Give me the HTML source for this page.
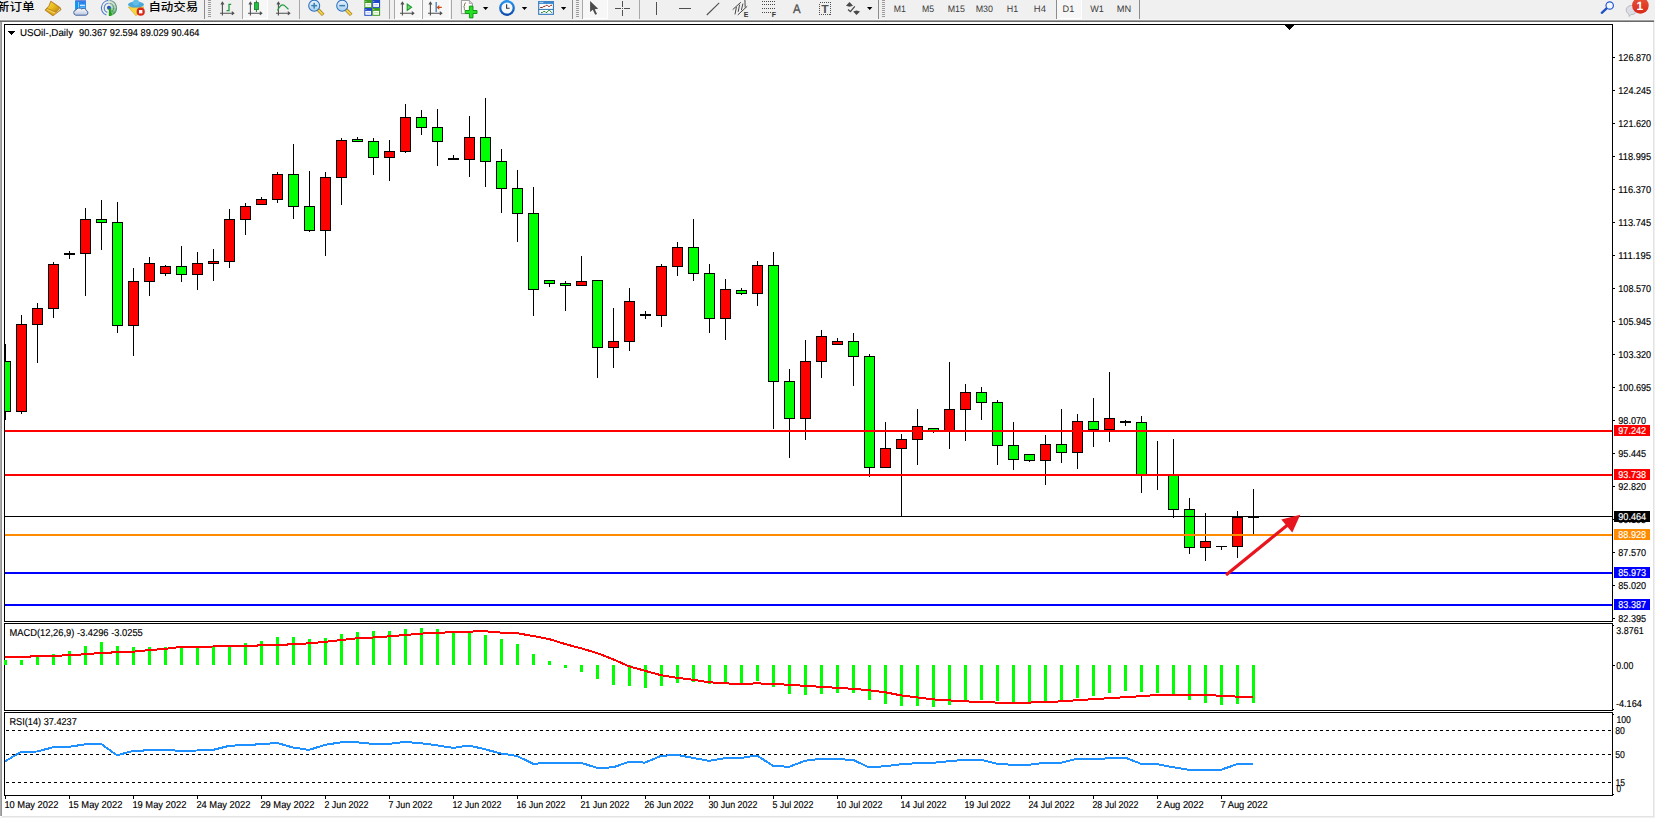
<!DOCTYPE html>
<html lang="zh"><head><meta charset="utf-8"><title>USOil-,Daily</title>
<style>
html,body{margin:0;padding:0;background:#fff;}
body{width:1655px;height:818px;overflow:hidden;position:relative;font-family:"Liberation Sans", "Noto Sans CJK SC", sans-serif;}
svg{position:absolute;left:0;top:0;display:block;}
text{font-family:"Liberation Sans", "Noto Sans CJK SC", sans-serif;}
.t{font-size:10px;fill:#000;text-rendering:geometricPrecision;stroke:#000;stroke-width:0.15px;}
.w{font-size:10px;fill:#fff;text-rendering:geometricPrecision;stroke:#fff;stroke-width:0.15px;}
.tf{font-size:9.3px;fill:#3c3c3c;text-rendering:geometricPrecision;}
.cn{font-size:11.5px;fill:#000;font-weight:500;}
.cr{shape-rendering:crispEdges;}
</style></head><body>
<svg width="1655" height="818" viewBox="0 0 1655 818">
<rect x="0" y="0" width="1655" height="818" fill="#fff"/>
<g class="cr">
<rect x="0" y="0" width="1655" height="20" fill="#f0f0f0"/>
<rect x="0" y="19" width="1654" height="1" fill="#f6f6f6"/>
<rect x="0" y="20" width="1654" height="1" fill="#a0a0a0"/>
<rect x="0" y="21" width="1654" height="1" fill="#696969"/>
<rect x="0" y="22" width="1" height="794" fill="#ababab"/>
<rect x="1" y="22" width="1" height="794" fill="#959595"/>
<rect x="1653" y="22" width="1" height="795" fill="#e3e3e3"/>
<rect x="1654" y="0" width="1" height="818" fill="#f0f0f0"/>
<rect x="2" y="816" width="1652" height="1" fill="#e3e3e3"/>
<rect x="0" y="817" width="1655" height="1" fill="#f0f0f0"/>
</g>
<defs>
<linearGradient id="gold" x1="0" y1="0" x2="1" y2="1"><stop offset="0" stop-color="#f7dc4a"/><stop offset="0.5" stop-color="#e8b91c"/><stop offset="1" stop-color="#b97d14"/></linearGradient>
<linearGradient id="blu" x1="0" y1="0" x2="0" y2="1"><stop offset="0" stop-color="#2c7be8"/><stop offset="1" stop-color="#1ea0f5"/></linearGradient>
<linearGradient id="cld" x1="0" y1="0" x2="0" y2="1"><stop offset="0" stop-color="#ffffff"/><stop offset="1" stop-color="#b9c6de"/></linearGradient>
<linearGradient id="lens" x1="0" y1="0" x2="0" y2="1"><stop offset="0" stop-color="#e8f3fb"/><stop offset="1" stop-color="#a9d0ee"/></linearGradient>
<linearGradient id="redg" x1="0" y1="0" x2="0" y2="1"><stop offset="0" stop-color="#e8553a"/><stop offset="1" stop-color="#d8281a"/></linearGradient>
<linearGradient id="clk" x1="0" y1="0" x2="0" y2="1"><stop offset="0" stop-color="#2a9af2"/><stop offset="1" stop-color="#0c48a8"/></linearGradient>
</defs>
<text class="cn" x="-3.2" y="11.2" textLength="37.8" lengthAdjust="spacingAndGlyphs">新订单</text>
<polygon points="50.8,1.0 60.2,7.5 61.1,9.7 52.9,15.9 44.9,10.1 48.8,6" fill="#b47c18" stroke="#b47c18" stroke-width="0.6" stroke-linejoin="round"/>
<polygon points="53.4,14.9 60.3,9.6 59.8,8.3 56.4,12.3" fill="#eadfa8"/>
<polygon points="47.0,8.7 56.2,12.5 53,15.0 45.9,10.1" fill="#e2ae20"/>
<polygon points="47.3,9.3 55.6,12.9 55.0,13.4 46.8,9.8" fill="#f6e27a"/>
<polygon points="51.1,2.1 59.5,7.9 56.4,11.9 47.5,8.2 49.6,5.4" fill="url(#gold)"/>
<rect x="75.2" y="0.4" width="10.8" height="9.4" rx="0.8" fill="url(#blu)"/>
<rect x="75.2" y="0" width="10.8" height="1.2" fill="#6a7fd6" opacity="0.8"/>
<polygon points="75.2,1 78.3,2.4 78.3,9.8 75.2,9.8" fill="#0f96f0"/>
<rect x="78.1" y="2" width="0.6" height="7" fill="#d8efff"/>
<rect x="80" y="4.7" width="5" height="1.2" fill="#e6f4ff"/>
<rect x="80" y="6.8" width="5" height="0.7" fill="#8fd0ff"/>
<path d="M75.8,15.2 a2.7,2.7 0 0 1 0.3,-5.3 a3.3,2.8 0 0 1 5.6,-0.9 a2.7,2.5 0 0 1 4.5,1.4 a2.6,2.5 0 0 1 -0.3,4.8 z" fill="url(#cld)" stroke="#44629e" stroke-width="1"/>
<circle cx="108.96" cy="7.95" r="8" fill="#eef1ea"/>
<path d="M108.96,7.95 L108.96,15.95 A8,8 0 0 0 112.96,14.88 Z" fill="#1fa01f" opacity="0.95"/>
<path d="M108.96,7.95 L112.96,14.88 A8,8 0 0 0 115.89,11.95 Z" fill="#3fae3c" opacity="0.75"/>
<path d="M108.96,7.95 L115.89,11.95 A8,8 0 0 0 116.96,7.95 Z" fill="#5cb85a" opacity="0.6"/>
<path d="M108.96,7.95 L116.96,7.95 A8,8 0 0 0 115.89,3.95 Z" fill="#7cc47a" opacity="0.5"/>
<path d="M108.96,7.95 L115.89,3.95 A8,8 0 0 0 112.96,1.02 Z" fill="#9ad098" opacity="0.4"/>
<path d="M108.96,7.95 L112.96,1.02 A8,8 0 0 0 107.57,0.07 Z" fill="#b4dcb2" opacity="0.25"/>
<path d="M106.39,15.00 A7.5,7.5 0 0 1 108.31,0.48" fill="none" stroke="#2f62c8" stroke-width="1.1" opacity="0.85"/>
<path d="M109.61,0.48 A7.5,7.5 0 0 1 113.26,14.09" fill="none" stroke="#2f6a78" stroke-width="1.1" opacity="0.595"/>
<path d="M107.35,12.37 A4.7,4.7 0 0 1 108.55,3.27" fill="none" stroke="#2f62c8" stroke-width="1.1" opacity="0.75"/>
<path d="M109.37,3.27 A4.7,4.7 0 0 1 111.66,11.80" fill="none" stroke="#2f6a78" stroke-width="1.1" opacity="0.525"/>
<rect x="108.96" y="7.95" width="1.5" height="8" fill="#1c9c1c"/>
<circle cx="108.96" cy="7.65" r="2" fill="#2456c8"/>
<rect x="108.96" y="8.35" width="1.5" height="7.6" fill="#1c9c1c"/>
<polygon points="128.4,7 143.9,7 136,15.8" fill="#f5d742" stroke="#d8a51e" stroke-width="0.7"/>
<ellipse cx="136" cy="4.6" rx="8" ry="3" fill="#4aa8d8"/>
<ellipse cx="136" cy="2.6" rx="3.4" ry="2.8" fill="#62bce6"/>
<circle cx="140.7" cy="11.7" r="4.1" fill="#d8281a"/>
<rect x="139" y="10" width="3.4" height="3.4" fill="#fff"/>
<text class="cn" x="148.4" y="11.2" textLength="49.8" lengthAdjust="spacingAndGlyphs">自动交易</text>
<rect class="cr" x="204" y="0" width="1" height="19" fill="#8c8c8c"/>
<rect class="cr" x="208" y="0" width="3" height="1" fill="#9c9c9c"/>
<rect class="cr" x="208" y="2" width="3" height="1" fill="#9c9c9c"/>
<rect class="cr" x="208" y="4" width="3" height="1" fill="#9c9c9c"/>
<rect class="cr" x="208" y="6" width="3" height="1" fill="#9c9c9c"/>
<rect class="cr" x="208" y="8" width="3" height="1" fill="#9c9c9c"/>
<rect class="cr" x="208" y="10" width="3" height="1" fill="#9c9c9c"/>
<rect class="cr" x="208" y="12" width="3" height="1" fill="#9c9c9c"/>
<rect class="cr" x="208" y="14" width="3" height="1" fill="#9c9c9c"/>
<rect class="cr" x="208" y="16" width="3" height="1" fill="#9c9c9c"/>
<g stroke="#505050" stroke-width="1.1" fill="none"><path d="M222.4,15.5 V2.5 M220.9,4.5 L222.4,2.3 L223.9,4.5"/><path d="M220,13.2 H233.6 M231.8,11.6 L233.8,13.2 L231.8,14.8"/></g>
<path d="M226.5,10.6 H229 V4.3 H231.2" fill="none" stroke="#1f9a3c" stroke-width="1.3"/>
<rect class="cr" x="242" y="0" width="1" height="19" fill="#a8a8a8"/>
<rect class="cr" x="243" y="0" width="25" height="18" fill="#f7f7f7"/>
<rect class="cr" x="243" y="18" width="25" height="1" fill="#ffffff"/>
<rect class="cr" x="267" y="0" width="1" height="19" fill="#ffffff"/>
<g stroke="#505050" stroke-width="1.1" fill="none"><path d="M250.4,15.5 V2.5 M248.9,4.5 L250.4,2.3 L251.9,4.5"/><path d="M248,13.2 H261.6 M259.8,11.6 L261.8,13.2 L259.8,14.8"/></g>
<rect x="255.9" y="0.5" width="1" height="11.5" fill="#1d7a2c"/><rect x="254.4" y="2.6" width="4" height="7" fill="#22c040" stroke="#1d7a2c" stroke-width="0.8"/>
<g stroke="#505050" stroke-width="1.1" fill="none"><path d="M278.4,15.5 V2.5 M276.9,4.5 L278.4,2.3 L279.9,4.5"/><path d="M276,13.2 H289.6 M287.8,11.6 L289.8,13.2 L287.8,14.8"/></g>
<path d="M277.5,10.5 C279.5,6 282,4 284,5.2 C286,6.5 287,8.5 288.5,9.3" fill="none" stroke="#1f9a3c" stroke-width="1.2"/>
<rect class="cr" x="299" y="0" width="1" height="19" fill="#a8a8a8"/>
<line x1="317.8" y1="9.3" x2="323.2" y2="14.9" stroke="#a67a14" stroke-width="3.4" stroke-linecap="butt"/>
<line x1="317.8" y1="9.3" x2="322.8" y2="14.5" stroke="#f2d648" stroke-width="1.9" stroke-linecap="butt"/>
<circle cx="314.2" cy="5.7" r="5.5" fill="url(#lens)" stroke="#2c70c0" stroke-width="1.05"/>
<rect x="311.3" y="4.9" width="5.8" height="1.5" fill="#3a80b4"/>
<rect x="313.45" y="2.8" width="1.5" height="5.8" fill="#3a80b4"/>
<line x1="345.8" y1="9.3" x2="351.2" y2="14.9" stroke="#a67a14" stroke-width="3.4" stroke-linecap="butt"/>
<line x1="345.8" y1="9.3" x2="350.8" y2="14.5" stroke="#f2d648" stroke-width="1.9" stroke-linecap="butt"/>
<circle cx="342.2" cy="5.7" r="5.5" fill="url(#lens)" stroke="#2c70c0" stroke-width="1.05"/>
<rect x="339.3" y="4.9" width="5.8" height="1.5" fill="#3a80b4"/>
<rect x="364.3" y="0" width="7.9" height="7.9" fill="#3f9e1f"/>
<rect x="365.3" y="3" width="5.8" height="3.9" fill="#ffffff"/>
<rect x="366.4" y="4.4" width="3.6" height="0.9" fill="#a6d88e"/>
<rect x="365.5" y="1.2" width="0.8" height="0.8" fill="#e8f0ff"/>
<rect x="372.2" y="0" width="7.9" height="7.9" fill="#1f48c4"/>
<rect x="373.2" y="3" width="5.8" height="3.9" fill="#ffffff"/>
<rect x="374.3" y="4.4" width="3.6" height="0.9" fill="#9db2f0"/>
<rect x="373.4" y="1.2" width="0.8" height="0.8" fill="#e8f0ff"/>
<rect x="364.3" y="7.9" width="7.9" height="7.9" fill="#1f48c4"/>
<rect x="365.3" y="10.9" width="5.8" height="3.9" fill="#ffffff"/>
<rect x="366.4" y="12.3" width="3.6" height="0.9" fill="#9db2f0"/>
<rect x="365.5" y="9.1" width="0.8" height="0.8" fill="#e8f0ff"/>
<rect x="372.2" y="7.9" width="7.9" height="7.9" fill="#3f9e1f"/>
<rect x="373.2" y="10.9" width="5.8" height="3.9" fill="#ffffff"/>
<rect x="374.3" y="12.3" width="3.6" height="0.9" fill="#a6d88e"/>
<rect x="373.4" y="9.1" width="0.8" height="0.8" fill="#e8f0ff"/>
<rect class="cr" x="389" y="0" width="1" height="19" fill="#a8a8a8"/>
<rect class="cr" x="394" y="0" width="1" height="19" fill="#a8a8a8"/>
<rect class="cr" x="395" y="0" width="27" height="18" fill="#f7f7f7"/>
<rect class="cr" x="395" y="18" width="27" height="1" fill="#ffffff"/>
<rect class="cr" x="421" y="0" width="1" height="19" fill="#ffffff"/>
<g stroke="#505050" stroke-width="1.1" fill="none"><path d="M402.4,15.5 V2.5 M400.9,4.5 L402.4,2.3 L403.9,4.5"/><path d="M400,13.2 H413.6 M411.8,11.6 L413.8,13.2 L411.8,14.8"/></g>
<polygon points="407.2,4 407.2,10.4 411.6,7.2" fill="#6adc6a" stroke="#1f9a30" stroke-width="1.1"/>
<rect class="cr" x="422" y="0" width="1" height="19" fill="#a8a8a8"/>
<rect class="cr" x="423" y="0" width="27" height="18" fill="#f7f7f7"/>
<rect class="cr" x="423" y="18" width="27" height="1" fill="#ffffff"/>
<rect class="cr" x="449" y="0" width="1" height="19" fill="#ffffff"/>
<g stroke="#505050" stroke-width="1.1" fill="none"><path d="M430.4,15.5 V2.5 M428.9,4.5 L430.4,2.3 L431.9,4.5"/><path d="M428,13.2 H441.6 M439.8,11.6 L441.8,13.2 L439.8,14.8"/></g>
<rect x="435.6" y="2" width="1.1" height="10" fill="#2060b0"/>
<path d="M441.8,7.4 H437.6 M439.3,5.7 L437.4,7.4 L439.3,9.1" fill="none" stroke="#d04a10" stroke-width="1.1"/>
<rect class="cr" x="451" y="0" width="1" height="19" fill="#a8a8a8"/>
<path d="M461.4,0.4 H469.4 L472.4,3.4 V13.6 H461.4 Z" fill="#fbfbfb" stroke="#8e8e8e" stroke-width="0.9"/>
<path d="M469.4,0.4 V3.4 H472.4" fill="#e0e0e0" stroke="#8e8e8e" stroke-width="0.7"/>
<path d="M466,2.8 C464.4,3 464.4,4.4 464.4,6.2 L463.6,6.8 L464.4,7.4 C464.4,9.4 464.2,10.4 465.6,10.6" fill="none" stroke="#6a5a30" stroke-width="0.8"/>
<path d="M469.4,6.1 h3.6 v4.4 h4 v3 h-4 v4.4 h-3.6 v-4.4 h-4.2 v-3 h4.2 z" fill="#22e022" stroke="#0c9010" stroke-width="0.9"/>
<polygon points="482.9,7 488.3,7 485.6,10" fill="#000"/>
<rect x="505.6" y="-0.5" width="2.8" height="1.6" fill="#1a78d0"/>
<circle cx="507" cy="8" r="7.9" fill="url(#clk)"/>
<circle cx="507" cy="8" r="5.6" fill="#f4f7fb"/>
<path d="M506.6,4.2 V8.2 H509.6" fill="none" stroke="#333" stroke-width="1.1"/>
<polygon points="521.8,7 527.2,7 524.5,10" fill="#000"/>
<rect x="538.7" y="1.7" width="14.7" height="12.6" fill="#ffffff" stroke="#2f74b8" stroke-width="1.1"/>
<rect x="538.2" y="1.2" width="15.7" height="2.7" fill="#3a86cc"/>
<rect x="539.4" y="1.9" width="4" height="0.8" fill="#cfe6fa"/>
<rect x="538.7" y="8.9" width="14.7" height="1" fill="#2f74b8"/>
<path d="M540.2,7.5 L542.6,7.4 L543.8,6.4 L545.2,6.3 L546.2,5.3 L547.2,5.3 L548.2,6.3 L549.8,6.3 L550.8,5.3 L552,5.3" fill="none" stroke="#8a2410" stroke-width="1"/>
<path d="M541,12.7 L542.6,12.4 L543.8,11.4 L545,11.5 L546,12.6 L547,12.4 L548.6,10.4 L549.6,10.3 L551.8,12.8" fill="none" stroke="#1f8a24" stroke-width="1"/>
<polygon points="560.9,7 566.3,7 563.6,10" fill="#000"/>
<rect class="cr" x="572" y="0" width="1" height="19" fill="#8c8c8c"/>
<rect class="cr" x="576" y="0" width="3" height="1" fill="#9c9c9c"/>
<rect class="cr" x="576" y="2" width="3" height="1" fill="#9c9c9c"/>
<rect class="cr" x="576" y="4" width="3" height="1" fill="#9c9c9c"/>
<rect class="cr" x="576" y="6" width="3" height="1" fill="#9c9c9c"/>
<rect class="cr" x="576" y="8" width="3" height="1" fill="#9c9c9c"/>
<rect class="cr" x="576" y="10" width="3" height="1" fill="#9c9c9c"/>
<rect class="cr" x="576" y="12" width="3" height="1" fill="#9c9c9c"/>
<rect class="cr" x="576" y="14" width="3" height="1" fill="#9c9c9c"/>
<rect class="cr" x="576" y="16" width="3" height="1" fill="#9c9c9c"/>
<rect class="cr" x="582" y="0" width="1" height="19" fill="#a8a8a8"/>
<rect class="cr" x="583" y="0" width="25" height="18" fill="#f7f7f7"/>
<rect class="cr" x="583" y="18" width="25" height="1" fill="#ffffff"/>
<rect class="cr" x="607" y="0" width="1" height="19" fill="#ffffff"/>
<polygon points="590.1,0.9 590.1,11.9 592.8,9.8 595.2,14.8 597,14 594.7,9.2 598.2,8.8" fill="#4c4c4c"/>
<rect class="cr" x="622" y="1" width="1" height="15" fill="#505050"/><rect class="cr" x="615" y="8" width="15" height="1" fill="#505050"/>
<rect class="cr" x="621" y="7" width="3" height="3" fill="#f0f0f0"/><rect class="cr" x="622" y="8" width="1" height="1" fill="#505050"/>
<rect class="cr" x="639" y="0" width="1" height="19" fill="#a8a8a8"/>
<rect class="cr" x="656" y="2" width="1" height="13" fill="#505050"/>
<rect class="cr" x="679" y="8" width="12" height="1" fill="#505050"/>
<line x1="706.8" y1="15" x2="719.2" y2="2.8" stroke="#505050" stroke-width="1.1"/>
<g stroke="#484848" stroke-width="1" fill="none"><line x1="732.7" y1="9.6" x2="740.9" y2="2.2"/><line x1="737.8" y1="14.9" x2="747.2" y2="6.3"/><line x1="735" y1="14.4" x2="736.4" y2="7"/><line x1="738.2" y1="11.8" x2="739.6" y2="4.6"/><line x1="741.4" y1="10.2" x2="742.9" y2="3.6"/><line x1="744.9" y1="0" x2="745.2" y2="7.6"/></g>
<text x="743.7" y="17" style="font-size:7px;font-weight:bold;fill:#333">E</text>
<line class="cr" x1="762" y1="1.5" x2="775" y2="1.5" stroke="#484848" stroke-width="1" stroke-dasharray="1,1"/>
<line class="cr" x1="762" y1="4.5" x2="775" y2="4.5" stroke="#484848" stroke-width="1" stroke-dasharray="1,1"/>
<line class="cr" x1="762" y1="8.5" x2="775" y2="8.5" stroke="#484848" stroke-width="1" stroke-dasharray="1,1"/>
<line class="cr" x1="762" y1="12.5" x2="771" y2="12.5" stroke="#484848" stroke-width="1" stroke-dasharray="1,1"/>
<text x="771.8" y="17" style="font-size:7px;font-weight:bold;fill:#333">F</text>
<text x="792.9" y="13" style="font-size:12.5px;fill:#4c4c4c;stroke:#4c4c4c;stroke-width:0.3px;text-rendering:geometricPrecision" textLength="7.6" lengthAdjust="spacingAndGlyphs">A</text>
<rect class="cr" x="819.5" y="2.5" width="11" height="12" fill="none" stroke="#505050" stroke-width="1" stroke-dasharray="1,1"/>
<text x="821.3" y="12.6" style="font-size:10.5px;fill:#505050;font-weight:bold" textLength="7.4" lengthAdjust="spacingAndGlyphs">T</text>
<polygon points="846,5.8 849.5,1.9 853,5.8 849.5,6.8" fill="#484848"/><polygon points="853.2,11.4 856.5,10.4 860,11.4 856.5,14.9" fill="#484848"/>
<path d="M848,9.6 L850.4,11.6 L854.8,6.4" fill="none" stroke="#484848" stroke-width="1.3"/>
<polygon points="867,7 872.4,7 869.7,10" fill="#000"/>
<rect class="cr" x="878" y="0" width="1" height="19" fill="#8c8c8c"/>
<rect class="cr" x="882" y="0" width="3" height="1" fill="#9c9c9c"/>
<rect class="cr" x="882" y="2" width="3" height="1" fill="#9c9c9c"/>
<rect class="cr" x="882" y="4" width="3" height="1" fill="#9c9c9c"/>
<rect class="cr" x="882" y="6" width="3" height="1" fill="#9c9c9c"/>
<rect class="cr" x="882" y="8" width="3" height="1" fill="#9c9c9c"/>
<rect class="cr" x="882" y="10" width="3" height="1" fill="#9c9c9c"/>
<rect class="cr" x="882" y="12" width="3" height="1" fill="#9c9c9c"/>
<rect class="cr" x="882" y="14" width="3" height="1" fill="#9c9c9c"/>
<rect class="cr" x="882" y="16" width="3" height="1" fill="#9c9c9c"/>
<rect class="cr" x="1056" y="0" width="1" height="19" fill="#8c8c8c"/>
<rect class="cr" x="1057" y="0" width="25" height="18" fill="#f7f7f7"/>
<rect class="cr" x="1057" y="18" width="25" height="1" fill="#ffffff"/>
<rect class="cr" x="1081" y="0" width="1" height="19" fill="#ffffff"/>
<text class="tf" x="893.7" y="11.8" textLength="12.1" lengthAdjust="spacingAndGlyphs">M1</text>
<text class="tf" x="922" y="11.8" textLength="12.1" lengthAdjust="spacingAndGlyphs">M5</text>
<text class="tf" x="947.7" y="11.8" textLength="17.2" lengthAdjust="spacingAndGlyphs">M15</text>
<text class="tf" x="975.7" y="11.8" textLength="17.3" lengthAdjust="spacingAndGlyphs">M30</text>
<text class="tf" x="1006.8" y="11.8" textLength="11.4" lengthAdjust="spacingAndGlyphs">H1</text>
<text class="tf" x="1033.8" y="11.8" textLength="12.1" lengthAdjust="spacingAndGlyphs">H4</text>
<text class="tf" x="1062.6" y="11.8" textLength="11.7" lengthAdjust="spacingAndGlyphs">D1</text>
<text class="tf" x="1090.3" y="11.8" textLength="13.6" lengthAdjust="spacingAndGlyphs">W1</text>
<text class="tf" x="1116.8" y="11.8" textLength="14.4" lengthAdjust="spacingAndGlyphs">MN</text>
<rect class="cr" x="1139" y="0" width="1" height="19" fill="#8c8c8c"/>
<line x1="1606.6" y1="8.4" x2="1601.8" y2="12.8" stroke="#1f4fc0" stroke-width="2.3" stroke-linecap="round"/>
<circle cx="1609.7" cy="5.5" r="3.7" fill="#f4f8ff" stroke="#2458d0" stroke-width="1.2"/>
<path d="M1626.2,10 a5.4,4.6 0 0 1 10.8,0 a5.4,4.6 0 0 1 -6,4.5 l-1.8,2 l-0.3,-2.4 a5,4.4 0 0 1 -2.7,-4.1 z" fill="#dcdfe8" stroke="#a8a8a8" stroke-width="0.7"/>
<circle cx="1640.4" cy="5.5" r="8.3" fill="url(#redg)"/>
<text x="1636.4" y="10" style="font-size:12px;fill:#fff;font-weight:bold;text-rendering:geometricPrecision">1</text>
<g class="cr" fill="none" stroke="#000" stroke-width="1">
<rect x="4.5" y="24.5" width="1608" height="597"/>
<rect x="4.5" y="623.5" width="1608" height="87"/>
<rect x="4.5" y="712.5" width="1608" height="83"/>
</g>
<clipPath id="cm"><rect x="5" y="25" width="1607" height="596"/></clipPath>
<g class="cr" clip-path="url(#cm)">
<rect x="5" y="344" width="1" height="76" fill="#000"/>
<rect x="0.5" y="361.5" width="10" height="50" fill="#00ff00" stroke="#000" stroke-width="1"/>
<rect x="21" y="315" width="1" height="99" fill="#000"/>
<rect x="16.5" y="324.5" width="10" height="87" fill="#ff0000" stroke="#000" stroke-width="1"/>
<rect x="37" y="303" width="1" height="60" fill="#000"/>
<rect x="32.5" y="308.5" width="10" height="16" fill="#ff0000" stroke="#000" stroke-width="1"/>
<rect x="53" y="262" width="1" height="56" fill="#000"/>
<rect x="48.5" y="264.5" width="10" height="44" fill="#ff0000" stroke="#000" stroke-width="1"/>
<rect x="69" y="251" width="1" height="8" fill="#000"/>
<rect x="64" y="253" width="11" height="2" fill="#000"/>
<rect x="85" y="208" width="1" height="88" fill="#000"/>
<rect x="80.5" y="219.5" width="10" height="34" fill="#ff0000" stroke="#000" stroke-width="1"/>
<rect x="101" y="200" width="1" height="50" fill="#000"/>
<rect x="96.5" y="219.5" width="10" height="3" fill="#00ff00" stroke="#000" stroke-width="1"/>
<rect x="117" y="202" width="1" height="131" fill="#000"/>
<rect x="112.5" y="222.5" width="10" height="103" fill="#00ff00" stroke="#000" stroke-width="1"/>
<rect x="133" y="268" width="1" height="88" fill="#000"/>
<rect x="128.5" y="281.5" width="10" height="44" fill="#ff0000" stroke="#000" stroke-width="1"/>
<rect x="149" y="257" width="1" height="39" fill="#000"/>
<rect x="144.5" y="263.5" width="10" height="18" fill="#ff0000" stroke="#000" stroke-width="1"/>
<rect x="165" y="265" width="1" height="11" fill="#000"/>
<rect x="160.5" y="266.5" width="10" height="7" fill="#ff0000" stroke="#000" stroke-width="1"/>
<rect x="181" y="246" width="1" height="36" fill="#000"/>
<rect x="176.5" y="266.5" width="10" height="8" fill="#00ff00" stroke="#000" stroke-width="1"/>
<rect x="197" y="252" width="1" height="38" fill="#000"/>
<rect x="192.5" y="263.5" width="10" height="11" fill="#ff0000" stroke="#000" stroke-width="1"/>
<rect x="213" y="249" width="1" height="32" fill="#000"/>
<rect x="208.5" y="261.5" width="10" height="2" fill="#ff0000" stroke="#000" stroke-width="1"/>
<rect x="229" y="209" width="1" height="59" fill="#000"/>
<rect x="224.5" y="219.5" width="10" height="42" fill="#ff0000" stroke="#000" stroke-width="1"/>
<rect x="245" y="203" width="1" height="32" fill="#000"/>
<rect x="240.5" y="206.5" width="10" height="13" fill="#ff0000" stroke="#000" stroke-width="1"/>
<rect x="261" y="197" width="1" height="8" fill="#000"/>
<rect x="256.5" y="199.5" width="10" height="5" fill="#ff0000" stroke="#000" stroke-width="1"/>
<rect x="277" y="172" width="1" height="31" fill="#000"/>
<rect x="272.5" y="174.5" width="10" height="25" fill="#ff0000" stroke="#000" stroke-width="1"/>
<rect x="293" y="144" width="1" height="75" fill="#000"/>
<rect x="288.5" y="174.5" width="10" height="32" fill="#00ff00" stroke="#000" stroke-width="1"/>
<rect x="309" y="171" width="1" height="61" fill="#000"/>
<rect x="304.5" y="206.5" width="10" height="24" fill="#00ff00" stroke="#000" stroke-width="1"/>
<rect x="325" y="172" width="1" height="84" fill="#000"/>
<rect x="320.5" y="177.5" width="10" height="53" fill="#ff0000" stroke="#000" stroke-width="1"/>
<rect x="341" y="138" width="1" height="67" fill="#000"/>
<rect x="336.5" y="140.5" width="10" height="37" fill="#ff0000" stroke="#000" stroke-width="1"/>
<rect x="357" y="137" width="1" height="5" fill="#000"/>
<rect x="352.5" y="139.5" width="10" height="2" fill="#00ff00" stroke="#000" stroke-width="1"/>
<rect x="373" y="138" width="1" height="37" fill="#000"/>
<rect x="368.5" y="141.5" width="10" height="16" fill="#00ff00" stroke="#000" stroke-width="1"/>
<rect x="389" y="140" width="1" height="41" fill="#000"/>
<rect x="384.5" y="151.5" width="10" height="6" fill="#ff0000" stroke="#000" stroke-width="1"/>
<rect x="405" y="104" width="1" height="49" fill="#000"/>
<rect x="400.5" y="117.5" width="10" height="34" fill="#ff0000" stroke="#000" stroke-width="1"/>
<rect x="421" y="110" width="1" height="25" fill="#000"/>
<rect x="416.5" y="117.5" width="10" height="10" fill="#00ff00" stroke="#000" stroke-width="1"/>
<rect x="437" y="109" width="1" height="57" fill="#000"/>
<rect x="432.5" y="127.5" width="10" height="14" fill="#00ff00" stroke="#000" stroke-width="1"/>
<rect x="453" y="155" width="1" height="5" fill="#000"/>
<rect x="448" y="158" width="11" height="2" fill="#000"/>
<rect x="469" y="116" width="1" height="61" fill="#000"/>
<rect x="464.5" y="137.5" width="10" height="22" fill="#ff0000" stroke="#000" stroke-width="1"/>
<rect x="485" y="98" width="1" height="89" fill="#000"/>
<rect x="480.5" y="137.5" width="10" height="24" fill="#00ff00" stroke="#000" stroke-width="1"/>
<rect x="501" y="149" width="1" height="64" fill="#000"/>
<rect x="496.5" y="161.5" width="10" height="27" fill="#00ff00" stroke="#000" stroke-width="1"/>
<rect x="517" y="170" width="1" height="72" fill="#000"/>
<rect x="512.5" y="188.5" width="10" height="25" fill="#00ff00" stroke="#000" stroke-width="1"/>
<rect x="533" y="187" width="1" height="129" fill="#000"/>
<rect x="528.5" y="213.5" width="10" height="76" fill="#00ff00" stroke="#000" stroke-width="1"/>
<rect x="549" y="280" width="1" height="7" fill="#000"/>
<rect x="544.5" y="280.5" width="10" height="3" fill="#00ff00" stroke="#000" stroke-width="1"/>
<rect x="565" y="281" width="1" height="30" fill="#000"/>
<rect x="560.5" y="283.5" width="10" height="2" fill="#00ff00" stroke="#000" stroke-width="1"/>
<rect x="581" y="256" width="1" height="30" fill="#000"/>
<rect x="576.5" y="281.5" width="10" height="4" fill="#ff0000" stroke="#000" stroke-width="1"/>
<rect x="597" y="280" width="1" height="98" fill="#000"/>
<rect x="592.5" y="280.5" width="10" height="67" fill="#00ff00" stroke="#000" stroke-width="1"/>
<rect x="613" y="308" width="1" height="60" fill="#000"/>
<rect x="608.5" y="341.5" width="10" height="6" fill="#ff0000" stroke="#000" stroke-width="1"/>
<rect x="629" y="288" width="1" height="63" fill="#000"/>
<rect x="624.5" y="301.5" width="10" height="40" fill="#ff0000" stroke="#000" stroke-width="1"/>
<rect x="645" y="311" width="1" height="8" fill="#000"/>
<rect x="640" y="314" width="11" height="2" fill="#000"/>
<rect x="661" y="264" width="1" height="63" fill="#000"/>
<rect x="656.5" y="266.5" width="10" height="49" fill="#ff0000" stroke="#000" stroke-width="1"/>
<rect x="677" y="242" width="1" height="34" fill="#000"/>
<rect x="672.5" y="247.5" width="10" height="19" fill="#ff0000" stroke="#000" stroke-width="1"/>
<rect x="693" y="219" width="1" height="62" fill="#000"/>
<rect x="688.5" y="247.5" width="10" height="26" fill="#00ff00" stroke="#000" stroke-width="1"/>
<rect x="709" y="264" width="1" height="69" fill="#000"/>
<rect x="704.5" y="273.5" width="10" height="45" fill="#00ff00" stroke="#000" stroke-width="1"/>
<rect x="725" y="279" width="1" height="61" fill="#000"/>
<rect x="720.5" y="289.5" width="10" height="29" fill="#ff0000" stroke="#000" stroke-width="1"/>
<rect x="741" y="288" width="1" height="7" fill="#000"/>
<rect x="736.5" y="290.5" width="10" height="3" fill="#00ff00" stroke="#000" stroke-width="1"/>
<rect x="757" y="261" width="1" height="45" fill="#000"/>
<rect x="752.5" y="265.5" width="10" height="28" fill="#ff0000" stroke="#000" stroke-width="1"/>
<rect x="773" y="252" width="1" height="177" fill="#000"/>
<rect x="768.5" y="265.5" width="10" height="116" fill="#00ff00" stroke="#000" stroke-width="1"/>
<rect x="789" y="369" width="1" height="89" fill="#000"/>
<rect x="784.5" y="381.5" width="10" height="37" fill="#00ff00" stroke="#000" stroke-width="1"/>
<rect x="805" y="340" width="1" height="100" fill="#000"/>
<rect x="800.5" y="361.5" width="10" height="57" fill="#ff0000" stroke="#000" stroke-width="1"/>
<rect x="821" y="330" width="1" height="48" fill="#000"/>
<rect x="816.5" y="336.5" width="10" height="25" fill="#ff0000" stroke="#000" stroke-width="1"/>
<rect x="837" y="338" width="1" height="7" fill="#000"/>
<rect x="832.5" y="341.5" width="10" height="3" fill="#ff0000" stroke="#000" stroke-width="1"/>
<rect x="853" y="333" width="1" height="53" fill="#000"/>
<rect x="848.5" y="341.5" width="10" height="15" fill="#00ff00" stroke="#000" stroke-width="1"/>
<rect x="869" y="354" width="1" height="123" fill="#000"/>
<rect x="864.5" y="356.5" width="10" height="111" fill="#00ff00" stroke="#000" stroke-width="1"/>
<rect x="885" y="422" width="1" height="46" fill="#000"/>
<rect x="880.5" y="448.5" width="10" height="19" fill="#ff0000" stroke="#000" stroke-width="1"/>
<rect x="901" y="434" width="1" height="83" fill="#000"/>
<rect x="896.5" y="439.5" width="10" height="9" fill="#ff0000" stroke="#000" stroke-width="1"/>
<rect x="917" y="409" width="1" height="56" fill="#000"/>
<rect x="912.5" y="426.5" width="10" height="13" fill="#ff0000" stroke="#000" stroke-width="1"/>
<rect x="933" y="428" width="1" height="5" fill="#000"/>
<rect x="928.5" y="428.5" width="10" height="3" fill="#00ff00" stroke="#000" stroke-width="1"/>
<rect x="949" y="362" width="1" height="87" fill="#000"/>
<rect x="944.5" y="409.5" width="10" height="22" fill="#ff0000" stroke="#000" stroke-width="1"/>
<rect x="965" y="384" width="1" height="57" fill="#000"/>
<rect x="960.5" y="392.5" width="10" height="17" fill="#ff0000" stroke="#000" stroke-width="1"/>
<rect x="981" y="387" width="1" height="33" fill="#000"/>
<rect x="976.5" y="392.5" width="10" height="10" fill="#00ff00" stroke="#000" stroke-width="1"/>
<rect x="997" y="400" width="1" height="65" fill="#000"/>
<rect x="992.5" y="402.5" width="10" height="43" fill="#00ff00" stroke="#000" stroke-width="1"/>
<rect x="1013" y="422" width="1" height="48" fill="#000"/>
<rect x="1008.5" y="445.5" width="10" height="14" fill="#00ff00" stroke="#000" stroke-width="1"/>
<rect x="1029" y="454" width="1" height="8" fill="#000"/>
<rect x="1024.5" y="454.5" width="10" height="6" fill="#00ff00" stroke="#000" stroke-width="1"/>
<rect x="1045" y="435" width="1" height="50" fill="#000"/>
<rect x="1040.5" y="444.5" width="10" height="16" fill="#ff0000" stroke="#000" stroke-width="1"/>
<rect x="1061" y="409" width="1" height="54" fill="#000"/>
<rect x="1056.5" y="444.5" width="10" height="8" fill="#00ff00" stroke="#000" stroke-width="1"/>
<rect x="1077" y="414" width="1" height="55" fill="#000"/>
<rect x="1072.5" y="421.5" width="10" height="31" fill="#ff0000" stroke="#000" stroke-width="1"/>
<rect x="1093" y="398" width="1" height="49" fill="#000"/>
<rect x="1088.5" y="421.5" width="10" height="8" fill="#00ff00" stroke="#000" stroke-width="1"/>
<rect x="1109" y="372" width="1" height="70" fill="#000"/>
<rect x="1104.5" y="418.5" width="10" height="11" fill="#ff0000" stroke="#000" stroke-width="1"/>
<rect x="1125" y="420" width="1" height="6" fill="#000"/>
<rect x="1120" y="421" width="11" height="2" fill="#000"/>
<rect x="1141" y="416" width="1" height="77" fill="#000"/>
<rect x="1136.5" y="422.5" width="10" height="52" fill="#00ff00" stroke="#000" stroke-width="1"/>
<rect x="1157" y="441" width="1" height="49" fill="#000"/>
<rect x="1152" y="474" width="11" height="2" fill="#000"/>
<rect x="1173" y="439" width="1" height="79" fill="#000"/>
<rect x="1168.5" y="474.5" width="10" height="35" fill="#00ff00" stroke="#000" stroke-width="1"/>
<rect x="1189" y="498" width="1" height="56" fill="#000"/>
<rect x="1184.5" y="509.5" width="10" height="38" fill="#00ff00" stroke="#000" stroke-width="1"/>
<rect x="1205" y="513" width="1" height="48" fill="#000"/>
<rect x="1200.5" y="541.5" width="10" height="6" fill="#ff0000" stroke="#000" stroke-width="1"/>
<rect x="1221" y="546" width="1" height="4" fill="#000"/>
<rect x="1216" y="546" width="11" height="1" fill="#000"/>
<rect x="1237" y="511" width="1" height="47" fill="#000"/>
<rect x="1232.5" y="517.5" width="10" height="29" fill="#ff0000" stroke="#000" stroke-width="1"/>
<rect x="1253" y="489" width="1" height="46" fill="#000"/>
<rect x="1248" y="517" width="11" height="1" fill="#000"/>
</g>
<g class="cr">
<rect x="5" y="430" width="1607" height="2" fill="#ff0000"/>
<rect x="5" y="474" width="1607" height="2" fill="#ff0000"/>
<rect x="5" y="516" width="1607" height="1" fill="#000000"/>
<rect x="5" y="534" width="1607" height="2" fill="#ff8c00"/>
<rect x="5" y="572" width="1607" height="2" fill="#0000ff"/>
<rect x="5" y="604" width="1607" height="2" fill="#0000ff"/>
</g>
<line x1="1226" y1="575" x2="1290" y2="523" stroke="#e8151f" stroke-width="3.2"/>
<polygon points="1300.3,514.8 1281.3,519.6 1292.3,532.5" fill="#e8151f"/>
<g class="cr" fill="#000"><rect x="1285" y="25" width="9" height="1"/><rect x="1286" y="26" width="7" height="1"/><rect x="1287" y="27" width="5" height="1"/><rect x="1288" y="28" width="3" height="1"/><rect x="1289" y="29" width="1" height="1"/></g>
<g class="cr" fill="#000"><rect x="8" y="31" width="7" height="1"/><rect x="9" y="32" width="5" height="1"/><rect x="10" y="33" width="3" height="1"/><rect x="11" y="34" width="1" height="1"/></g>
<g class="cr">
<rect x="4" y="660" width="3" height="5" fill="#00ff00"/>
<rect x="20" y="660" width="3" height="5" fill="#00ff00"/>
<rect x="36" y="657" width="3" height="8" fill="#00ff00"/>
<rect x="52" y="654" width="3" height="11" fill="#00ff00"/>
<rect x="68" y="651" width="3" height="14" fill="#00ff00"/>
<rect x="84" y="646" width="3" height="19" fill="#00ff00"/>
<rect x="100" y="642" width="3" height="23" fill="#00ff00"/>
<rect x="116" y="646" width="3" height="19" fill="#00ff00"/>
<rect x="132" y="647" width="3" height="18" fill="#00ff00"/>
<rect x="148" y="647" width="3" height="18" fill="#00ff00"/>
<rect x="164" y="647" width="3" height="18" fill="#00ff00"/>
<rect x="180" y="648" width="3" height="17" fill="#00ff00"/>
<rect x="196" y="647" width="3" height="18" fill="#00ff00"/>
<rect x="212" y="647" width="3" height="18" fill="#00ff00"/>
<rect x="228" y="646" width="3" height="19" fill="#00ff00"/>
<rect x="244" y="643" width="3" height="22" fill="#00ff00"/>
<rect x="260" y="641" width="3" height="24" fill="#00ff00"/>
<rect x="276" y="637" width="3" height="28" fill="#00ff00"/>
<rect x="292" y="637" width="3" height="28" fill="#00ff00"/>
<rect x="308" y="639" width="3" height="26" fill="#00ff00"/>
<rect x="324" y="638" width="3" height="27" fill="#00ff00"/>
<rect x="340" y="634" width="3" height="31" fill="#00ff00"/>
<rect x="356" y="632" width="3" height="33" fill="#00ff00"/>
<rect x="372" y="631" width="3" height="34" fill="#00ff00"/>
<rect x="388" y="631" width="3" height="34" fill="#00ff00"/>
<rect x="404" y="629" width="3" height="36" fill="#00ff00"/>
<rect x="420" y="628" width="3" height="37" fill="#00ff00"/>
<rect x="436" y="629" width="3" height="36" fill="#00ff00"/>
<rect x="452" y="632" width="3" height="33" fill="#00ff00"/>
<rect x="468" y="631" width="3" height="34" fill="#00ff00"/>
<rect x="484" y="635" width="3" height="30" fill="#00ff00"/>
<rect x="500" y="639" width="3" height="26" fill="#00ff00"/>
<rect x="516" y="644" width="3" height="21" fill="#00ff00"/>
<rect x="532" y="654" width="3" height="11" fill="#00ff00"/>
<rect x="548" y="661" width="3" height="4" fill="#00ff00"/>
<rect x="564" y="665" width="3" height="3" fill="#00ff00"/>
<rect x="580" y="665" width="3" height="7" fill="#00ff00"/>
<rect x="596" y="665" width="3" height="14" fill="#00ff00"/>
<rect x="612" y="665" width="3" height="20" fill="#00ff00"/>
<rect x="628" y="665" width="3" height="21" fill="#00ff00"/>
<rect x="644" y="665" width="3" height="23" fill="#00ff00"/>
<rect x="660" y="665" width="3" height="21" fill="#00ff00"/>
<rect x="676" y="665" width="3" height="18" fill="#00ff00"/>
<rect x="692" y="665" width="3" height="17" fill="#00ff00"/>
<rect x="708" y="665" width="3" height="19" fill="#00ff00"/>
<rect x="724" y="665" width="3" height="19" fill="#00ff00"/>
<rect x="740" y="665" width="3" height="18" fill="#00ff00"/>
<rect x="756" y="665" width="3" height="16" fill="#00ff00"/>
<rect x="772" y="665" width="3" height="22" fill="#00ff00"/>
<rect x="788" y="665" width="3" height="29" fill="#00ff00"/>
<rect x="804" y="665" width="3" height="30" fill="#00ff00"/>
<rect x="820" y="665" width="3" height="29" fill="#00ff00"/>
<rect x="836" y="665" width="3" height="28" fill="#00ff00"/>
<rect x="852" y="665" width="3" height="28" fill="#00ff00"/>
<rect x="868" y="665" width="3" height="35" fill="#00ff00"/>
<rect x="884" y="665" width="3" height="39" fill="#00ff00"/>
<rect x="900" y="665" width="3" height="41" fill="#00ff00"/>
<rect x="916" y="665" width="3" height="41" fill="#00ff00"/>
<rect x="932" y="665" width="3" height="42" fill="#00ff00"/>
<rect x="948" y="665" width="3" height="40" fill="#00ff00"/>
<rect x="964" y="665" width="3" height="37" fill="#00ff00"/>
<rect x="980" y="665" width="3" height="35" fill="#00ff00"/>
<rect x="996" y="665" width="3" height="36" fill="#00ff00"/>
<rect x="1012" y="665" width="3" height="37" fill="#00ff00"/>
<rect x="1028" y="665" width="3" height="37" fill="#00ff00"/>
<rect x="1044" y="665" width="3" height="36" fill="#00ff00"/>
<rect x="1060" y="665" width="3" height="35" fill="#00ff00"/>
<rect x="1076" y="665" width="3" height="33" fill="#00ff00"/>
<rect x="1092" y="665" width="3" height="31" fill="#00ff00"/>
<rect x="1108" y="665" width="3" height="28" fill="#00ff00"/>
<rect x="1124" y="665" width="3" height="26" fill="#00ff00"/>
<rect x="1140" y="665" width="3" height="27" fill="#00ff00"/>
<rect x="1156" y="665" width="3" height="28" fill="#00ff00"/>
<rect x="1172" y="665" width="3" height="29" fill="#00ff00"/>
<rect x="1188" y="665" width="3" height="35" fill="#00ff00"/>
<rect x="1204" y="665" width="3" height="38" fill="#00ff00"/>
<rect x="1220" y="665" width="3" height="40" fill="#00ff00"/>
<rect x="1236" y="665" width="3" height="39" fill="#00ff00"/>
<rect x="1252" y="665" width="3" height="38" fill="#00ff00"/>
</g>
<clipPath id="c2"><rect x="5" y="624" width="1607" height="86"/></clipPath>
<polyline class="cr" clip-path="url(#c2)" points="5,657.3 21,656.8 37,656.3 53,655.9 69,655.2 85,654.3 101,652.9 117,652.3 133,651.7 149,650.1 165,648.9 181,646.9 197,646.7 213,646.5 229,646.2 245,645.9 261,645.4 277,644.9 293,644.3 309,643.3 325,641.9 341,640 357,638.3 373,637.5 389,636.4 405,635 421,633.6 437,633 453,632 469,631.6 485,631.2 501,632.6 517,633.2 533,636 549,639 565,644 581,648.3 597,653 613,659.3 629,666.3 645,670.8 661,675.2 677,677.8 693,679.8 709,682.2 725,683.4 741,683.8 757,683.4 773,683.8 789,684.8 805,685.8 821,686.8 837,687.8 853,688.8 869,690.2 885,692.2 901,695.4 917,697.4 933,699.4 949,700.4 965,701.4 981,701.8 997,702.6 1013,702.8 1029,702.6 1045,702 1061,701.4 1077,700.2 1093,699.2 1109,698.2 1125,697.2 1141,696.2 1157,695 1173,694.8 1189,694.8 1205,694.8 1221,695.8 1237,696.6 1253,696.8" fill="none" stroke="#ff0000" stroke-width="2" stroke-linejoin="round"/>
<g class="cr" stroke="#000" stroke-width="1" stroke-dasharray="3,3">
<line x1="6" y1="730.5" x2="1612" y2="730.5"/>
<line x1="6" y1="754.5" x2="1612" y2="754.5"/>
<line x1="6" y1="782.5" x2="1612" y2="782.5"/>
</g>
<clipPath id="c3"><rect x="5" y="713" width="1607" height="82"/></clipPath>
<polyline class="cr" clip-path="url(#c3)" points="5,761.4 21,751.9 37,751.5 53,747.3 69,746.9 85,744.3 101,743.9 117,755.3 133,750.9 149,750.3 165,749.9 181,750.9 197,750.5 213,749.9 229,745.9 245,744.9 261,744.3 277,742.9 293,747.5 309,749.9 325,744.9 341,742.3 357,742.3 373,743.9 389,743.9 405,741.9 421,743.3 437,745.3 453,747.9 469,745.5 485,749.3 501,753.5 517,755.9 533,763.8 549,762.8 565,762.8 581,762.8 597,767.8 613,767.4 629,761.8 645,762.6 661,755.9 677,754.9 693,757.9 709,760.8 725,758.2 741,757.9 757,755.5 773,765.8 789,766.8 805,760.8 821,758.8 837,759.2 853,759.8 869,767.4 885,766.2 901,764.2 917,763.2 933,762.8 949,761.2 965,759.8 981,759.8 997,763.8 1013,764.8 1029,764.8 1045,762.8 1061,762.8 1077,758.8 1093,758.8 1109,758.4 1125,757.5 1141,763.8 1157,764.2 1173,767.2 1189,769.8 1205,769.8 1221,769.8 1237,764.2 1253,764.2" fill="none" stroke="#1e90ff" stroke-width="2" stroke-linejoin="round"/>
<g class="cr" fill="#000">
<rect x="1613" y="57" width="2" height="1"/>
<rect x="1613" y="90" width="2" height="1"/>
<rect x="1613" y="123" width="2" height="1"/>
<rect x="1613" y="156" width="2" height="1"/>
<rect x="1613" y="189" width="2" height="1"/>
<rect x="1613" y="222" width="2" height="1"/>
<rect x="1613" y="255" width="2" height="1"/>
<rect x="1613" y="288" width="2" height="1"/>
<rect x="1613" y="321" width="2" height="1"/>
<rect x="1613" y="354" width="2" height="1"/>
<rect x="1613" y="387" width="2" height="1"/>
<rect x="1613" y="420" width="2" height="1"/>
<rect x="1613" y="453" width="2" height="1"/>
<rect x="1613" y="486" width="2" height="1"/>
<rect x="1613" y="519" width="2" height="1"/>
<rect x="1613" y="552" width="2" height="1"/>
<rect x="1613" y="585" width="2" height="1"/>
<rect x="1613" y="618" width="2" height="1"/>
<rect x="1613" y="665" width="2" height="1"/>
<rect x="1613" y="625" width="1" height="1"/>
<rect x="1613" y="709" width="1" height="1"/>
<rect x="1613" y="714" width="1" height="1"/>
<rect x="1613" y="794" width="1" height="1"/>
<rect x="5" y="796" width="1" height="3"/>
<rect x="69" y="796" width="1" height="3"/>
<rect x="133" y="796" width="1" height="3"/>
<rect x="197" y="796" width="1" height="3"/>
<rect x="261" y="796" width="1" height="3"/>
<rect x="325" y="796" width="1" height="3"/>
<rect x="389" y="796" width="1" height="3"/>
<rect x="453" y="796" width="1" height="3"/>
<rect x="517" y="796" width="1" height="3"/>
<rect x="581" y="796" width="1" height="3"/>
<rect x="645" y="796" width="1" height="3"/>
<rect x="709" y="796" width="1" height="3"/>
<rect x="773" y="796" width="1" height="3"/>
<rect x="837" y="796" width="1" height="3"/>
<rect x="901" y="796" width="1" height="3"/>
<rect x="965" y="796" width="1" height="3"/>
<rect x="1029" y="796" width="1" height="3"/>
<rect x="1093" y="796" width="1" height="3"/>
<rect x="1157" y="796" width="1" height="3"/>
<rect x="1221" y="796" width="1" height="3"/>
</g>
<text class="t" x="1618.3" y="61" textLength="32.8" lengthAdjust="spacingAndGlyphs">126.870</text>
<text class="t" x="1618.3" y="94" textLength="32.8" lengthAdjust="spacingAndGlyphs">124.245</text>
<text class="t" x="1618.3" y="127" textLength="32.8" lengthAdjust="spacingAndGlyphs">121.620</text>
<text class="t" x="1618.3" y="160" textLength="32.8" lengthAdjust="spacingAndGlyphs">118.995</text>
<text class="t" x="1618.3" y="193" textLength="32.8" lengthAdjust="spacingAndGlyphs">116.370</text>
<text class="t" x="1618.3" y="226" textLength="32.8" lengthAdjust="spacingAndGlyphs">113.745</text>
<text class="t" x="1618.3" y="259" textLength="32.8" lengthAdjust="spacingAndGlyphs">111.195</text>
<text class="t" x="1618.3" y="292" textLength="32.8" lengthAdjust="spacingAndGlyphs">108.570</text>
<text class="t" x="1618.3" y="325" textLength="32.8" lengthAdjust="spacingAndGlyphs">105.945</text>
<text class="t" x="1618.3" y="358" textLength="32.8" lengthAdjust="spacingAndGlyphs">103.320</text>
<text class="t" x="1618.3" y="391" textLength="32.8" lengthAdjust="spacingAndGlyphs">100.695</text>
<text class="t" x="1618.3" y="424" textLength="27.8" lengthAdjust="spacingAndGlyphs">98.070</text>
<text class="t" x="1618.3" y="457" textLength="27.8" lengthAdjust="spacingAndGlyphs">95.445</text>
<text class="t" x="1618.3" y="490" textLength="27.8" lengthAdjust="spacingAndGlyphs">92.820</text>
<text class="t" x="1618.3" y="523" textLength="27.8" lengthAdjust="spacingAndGlyphs">90.195</text>
<text class="t" x="1618.3" y="556" textLength="27.8" lengthAdjust="spacingAndGlyphs">87.570</text>
<text class="t" x="1618.3" y="589" textLength="27.8" lengthAdjust="spacingAndGlyphs">85.020</text>
<text class="t" x="1618.3" y="622" textLength="27.8" lengthAdjust="spacingAndGlyphs">82.395</text>
<rect class="cr" x="1614" y="425" width="36" height="11" fill="#ff0000"/>
<text class="w" x="1618.3" y="434" textLength="27.8" lengthAdjust="spacingAndGlyphs">97.242</text>
<rect class="cr" x="1614" y="469" width="36" height="11" fill="#ff0000"/>
<text class="w" x="1618.3" y="478" textLength="27.8" lengthAdjust="spacingAndGlyphs">93.738</text>
<rect class="cr" x="1614" y="511" width="36" height="11" fill="#000000"/>
<text class="w" x="1618.3" y="520" textLength="27.8" lengthAdjust="spacingAndGlyphs">90.464</text>
<rect class="cr" x="1614" y="529" width="36" height="11" fill="#ff8c00"/>
<text class="w" x="1618.3" y="538" textLength="27.8" lengthAdjust="spacingAndGlyphs">88.928</text>
<rect class="cr" x="1614" y="567" width="36" height="11" fill="#0000ff"/>
<text class="w" x="1618.3" y="576" textLength="27.8" lengthAdjust="spacingAndGlyphs">85.973</text>
<rect class="cr" x="1614" y="599" width="36" height="11" fill="#0000ff"/>
<text class="w" x="1618.3" y="608" textLength="27.8" lengthAdjust="spacingAndGlyphs">83.387</text>
<text class="t" x="1616.3" y="634" textLength="27.3" lengthAdjust="spacingAndGlyphs">3.8761</text>
<text class="t" x="1616.3" y="669" textLength="17.1" lengthAdjust="spacingAndGlyphs">0.00</text>
<text class="t" x="1615.9" y="707" textLength="25.9" lengthAdjust="spacingAndGlyphs">-4.164</text>
<text class="t" x="1616.4" y="723" textLength="14.5" lengthAdjust="spacingAndGlyphs">100</text>
<text class="t" x="1615.2" y="734" textLength="9.7" lengthAdjust="spacingAndGlyphs">80</text>
<text class="t" x="1615.2" y="758" textLength="9.7" lengthAdjust="spacingAndGlyphs">50</text>
<text class="t" x="1615.6" y="786" textLength="9.5" lengthAdjust="spacingAndGlyphs">15</text>
<text class="t" x="1616.4" y="792" textLength="4.6" lengthAdjust="spacingAndGlyphs">0</text>
<text class="t" x="20" y="36" textLength="53" lengthAdjust="spacingAndGlyphs">USOil-,Daily</text>
<text class="t" x="79" y="36" textLength="120.5" lengthAdjust="spacingAndGlyphs">90.367 92.594 89.029 90.464</text>
<text class="t" x="9.5" y="636" textLength="133.3" lengthAdjust="spacingAndGlyphs">MACD(12,26,9) -3.4296 -3.0255</text>
<text class="t" x="9.5" y="725" textLength="67.3" lengthAdjust="spacingAndGlyphs">RSI(14) 37.4237</text>
<text class="t" x="4.4" y="808" textLength="54" lengthAdjust="spacingAndGlyphs">10 May 2022</text>
<text class="t" x="68.4" y="808" textLength="54" lengthAdjust="spacingAndGlyphs">15 May 2022</text>
<text class="t" x="132.4" y="808" textLength="54" lengthAdjust="spacingAndGlyphs">19 May 2022</text>
<text class="t" x="196.4" y="808" textLength="54" lengthAdjust="spacingAndGlyphs">24 May 2022</text>
<text class="t" x="260.4" y="808" textLength="54" lengthAdjust="spacingAndGlyphs">29 May 2022</text>
<text class="t" x="324.4" y="808" textLength="44" lengthAdjust="spacingAndGlyphs">2 Jun 2022</text>
<text class="t" x="388.4" y="808" textLength="44" lengthAdjust="spacingAndGlyphs">7 Jun 2022</text>
<text class="t" x="452.4" y="808" textLength="49" lengthAdjust="spacingAndGlyphs">12 Jun 2022</text>
<text class="t" x="516.4" y="808" textLength="49" lengthAdjust="spacingAndGlyphs">16 Jun 2022</text>
<text class="t" x="580.4" y="808" textLength="49" lengthAdjust="spacingAndGlyphs">21 Jun 2022</text>
<text class="t" x="644.4" y="808" textLength="49" lengthAdjust="spacingAndGlyphs">26 Jun 2022</text>
<text class="t" x="708.4" y="808" textLength="49" lengthAdjust="spacingAndGlyphs">30 Jun 2022</text>
<text class="t" x="772.4" y="808" textLength="41" lengthAdjust="spacingAndGlyphs">5 Jul 2022</text>
<text class="t" x="836.4" y="808" textLength="46" lengthAdjust="spacingAndGlyphs">10 Jul 2022</text>
<text class="t" x="900.4" y="808" textLength="46" lengthAdjust="spacingAndGlyphs">14 Jul 2022</text>
<text class="t" x="964.4" y="808" textLength="46" lengthAdjust="spacingAndGlyphs">19 Jul 2022</text>
<text class="t" x="1028.4" y="808" textLength="46" lengthAdjust="spacingAndGlyphs">24 Jul 2022</text>
<text class="t" x="1092.4" y="808" textLength="46" lengthAdjust="spacingAndGlyphs">28 Jul 2022</text>
<text class="t" x="1156.4" y="808" textLength="47.3" lengthAdjust="spacingAndGlyphs">2 Aug 2022</text>
<text class="t" x="1220.4" y="808" textLength="47.3" lengthAdjust="spacingAndGlyphs">7 Aug 2022</text>
</svg>
</body></html>
